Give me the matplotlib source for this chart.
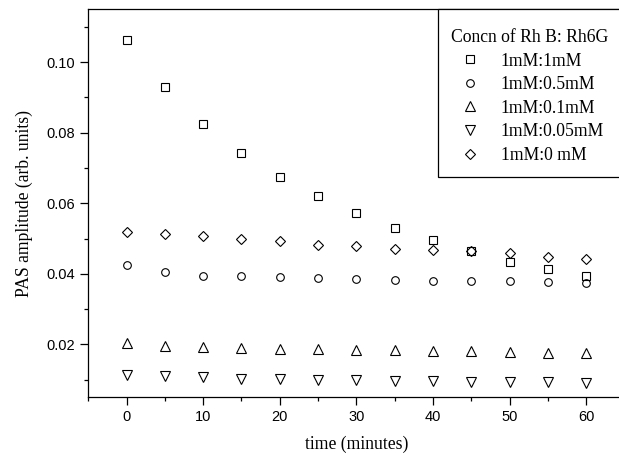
import matplotlib
matplotlib.use("Agg")
import matplotlib.pyplot as plt
from matplotlib.ticker import MultipleLocator
from matplotlib.offsetbox import DrawingArea

time_min = [0, 5, 10, 15, 20, 25, 30, 35, 40, 45, 50, 55, 60]

rh_1_1 = [0.1064, 0.0931, 0.0826, 0.0744, 0.0675, 0.0620, 0.0573,
          0.0530, 0.0496, 0.0466, 0.0433, 0.0414, 0.0395]
rh_1_05 = [0.0426, 0.0405, 0.0395, 0.0394, 0.0392, 0.0387, 0.0385,
           0.0383, 0.0381, 0.0379, 0.0379, 0.0378, 0.0375]
rh_1_01 = [0.0205, 0.0195, 0.0193, 0.0191, 0.0188, 0.0186, 0.0184,
           0.0183, 0.0182, 0.0180, 0.0178, 0.0177, 0.0175]
rh_1_005 = [0.0114, 0.0109, 0.0107, 0.0103, 0.0101, 0.0100, 0.0098,
            0.0096, 0.0095, 0.0094, 0.0093, 0.0093, 0.0091]
rh_1_0 = [0.0520, 0.0512, 0.0508, 0.0500, 0.0492, 0.0483, 0.0479,
          0.0471, 0.0468, 0.0466, 0.0458, 0.0449, 0.0443]

labels = ["1mM:1mM", "1mM:0.5mM", "1mM:0.1mM", "1mM:0.05mM", "1mM:0 mM"]
series = [rh_1_1, rh_1_05, rh_1_01, rh_1_005, rh_1_0]
markers = ["s", "o", "^", "v", "D"]
sizes = [5.6, 5.5, 6.8, 6.8, 5.0]

serif = "Liberation Serif"
sans = "Liberation Sans"

fig = plt.figure(figsize=(6.19, 4.54), dpi=100)
# axes runs a bit past the right edge of the picture, like the original crop
ax = fig.add_axes([0.1427, 0.1249, 0.866, 0.8546])

for y, lab, m, s in zip(series, labels, markers, sizes):
    ax.plot(time_min, y, linestyle="none", marker=m, markersize=s,
            markerfacecolor="none", markeredgecolor="black",
            markeredgewidth=0.8, label=lab)

ax.set_xlim(-5, 65)
ax.set_ylim(0.005, 0.115)
ax.xaxis.set_major_locator(MultipleLocator(10))
ax.xaxis.set_minor_locator(MultipleLocator(5))
ax.yaxis.set_major_locator(MultipleLocator(0.02))
ax.yaxis.set_minor_locator(MultipleLocator(0.01))
ax.yaxis.set_major_formatter(matplotlib.ticker.FormatStrFormatter("%.2f"))

ax.tick_params(which="major", direction="out", length=5.5, width=0.9,
               labelsize=10.5, pad=4)
ax.tick_params(which="minor", direction="out", length=3, width=0.9)
for lbl in ax.get_xticklabels() + ax.get_yticklabels():
    lbl.set_fontfamily(sans)
for sp in ax.spines.values():
    sp.set_linewidth(0.9)

ax.set_xlabel("time (minutes)", fontsize=12.7, family=serif, labelpad=8)
ax.set_ylabel("PAS amplitude (arb. units)", fontsize=12.7, family=serif,
              labelpad=10)

leg = ax.legend(loc="upper right", bbox_to_anchor=(1.0, 1.0),
                borderaxespad=0, title="Concn of Rh B: Rh6G",
                prop={"family": serif, "size": 12.7},
                title_fontproperties={"family": serif, "size": 12.7},
                alignment="left", fancybox=False, edgecolor="black",
                framealpha=1, handlelength=2.15, handletextpad=0.64,
                labelspacing=0.37, borderpad=0.75)
leg.get_frame().set_linewidth(0.9)
# spacer: a little more room above the title and a wider box
leg._legend_box._children.insert(0, DrawingArea(115, 0))

fig.savefig("out.png", dpi=100)
